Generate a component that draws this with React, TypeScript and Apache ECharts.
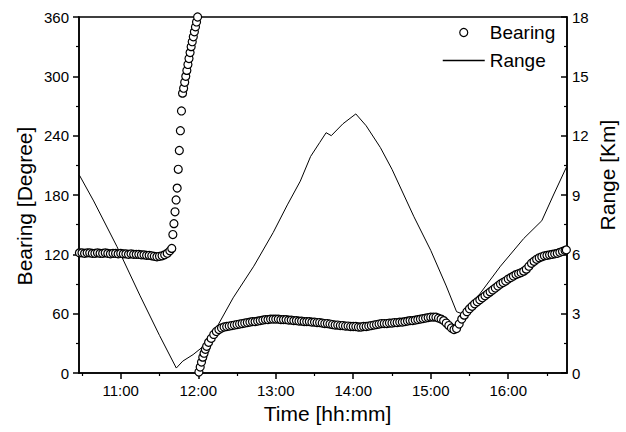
import React, { useEffect, useRef } from "react";
import * as echarts from "echarts";

// Target bearing (degrees) sampled over the track, time as hh:mm[:ss]
const bearingTime = [
  "10:28", "10:30", "10:32", "10:34", "10:36", "10:38", "10:40", "10:42", "10:44", "10:46",
  "10:48", "10:50", "10:52", "10:54", "10:56", "10:58", "11:00", "11:02", "11:04", "11:06",
  "11:08", "11:10", "11:12", "11:14", "11:16", "11:18", "11:20", "11:22", "11:24", "11:26",
  "11:28", "11:30", "11:32", "11:34", "11:36", "11:38",
  "11:39:30", "11:40:20", "11:41:10", "11:42:00", "11:42:50", "11:43:40", "11:44:30", "11:45:20",
  "11:46:10", "11:47:00", "11:47:50", "11:48:40", "11:49:30", "11:50:20", "11:51:10", "11:52:00",
  "11:52:50", "11:53:40", "11:54:30", "11:55:20", "11:56:10", "11:57:00", "11:57:50", "11:58:40",
  "11:59:30",
  "12:00:30", "12:01:30", "12:02:30", "12:03:30", "12:04:30", "12:05:30", "12:06:30",
  "12:08", "12:10", "12:12", "12:14", "12:16", "12:18", "12:20", "12:22", "12:24", "12:26",
  "12:28", "12:30", "12:32", "12:34", "12:36", "12:38", "12:40", "12:42", "12:44", "12:46",
  "12:48", "12:50", "12:52", "12:54", "12:56", "12:58", "13:00", "13:02", "13:04", "13:06",
  "13:08", "13:10", "13:12", "13:14", "13:16", "13:18", "13:20", "13:22", "13:24", "13:26",
  "13:28", "13:30", "13:32", "13:34", "13:36", "13:38", "13:40", "13:42", "13:44", "13:46",
  "13:48", "13:50", "13:52", "13:54", "13:56", "13:58", "14:00", "14:02", "14:04", "14:06",
  "14:08", "14:10", "14:12", "14:14", "14:16", "14:18", "14:20", "14:22", "14:24", "14:26",
  "14:28", "14:30", "14:32", "14:34", "14:36", "14:38", "14:40", "14:42", "14:44", "14:46",
  "14:48", "14:50", "14:52", "14:54", "14:56", "14:58", "15:00", "15:02", "15:04", "15:06",
  "15:08", "15:10", "15:12", "15:14", "15:16", "15:18", "15:20", "15:22", "15:24", "15:26",
  "15:28", "15:30", "15:32", "15:34", "15:36", "15:38", "15:40", "15:42", "15:44", "15:46",
  "15:48", "15:50", "15:52", "15:54", "15:56", "15:58", "16:00", "16:02", "16:04", "16:06",
  "16:08", "16:10", "16:12", "16:14", "16:16", "16:18", "16:20", "16:22", "16:24", "16:26",
  "16:28", "16:30", "16:32", "16:34", "16:36", "16:38", "16:40", "16:42", "16:44", "16:45",
];

const bearingDeg = [
  121.5, 121.5, 121, 121.5, 121.5, 121, 121, 121.5, 121, 121,
  121.5, 121, 120.5, 121, 121, 120.5, 121, 120.5, 120.5, 120,
  120.5, 120, 120, 120, 119.5, 119.5, 119, 119, 118.5, 118,
  117.5, 118, 118.5, 119.5, 121, 123.5,
  126, 140, 151, 163, 175, 187, 206, 225,
  245, 265, 283, 288, 294, 300, 306, 312,
  318, 324, 330, 335, 340, 345, 350, 355,
  360,
  1, 6, 11, 16, 20, 24, 27,
  31, 35, 39, 42, 44, 45.5, 46.5, 47, 47.5, 48,
  48.5, 49, 49.5, 50, 50.5, 51, 51.5, 52, 52, 52.5,
  53, 53.5, 54, 54, 54.5, 54.5, 54.5, 54.5, 54, 54,
  54, 53.5, 53.5, 53, 53, 52.5, 52.5, 52, 52, 52,
  51.5, 51.5, 51, 51, 50.5, 50, 50, 49.5, 49, 48.5,
  48.5, 48, 48, 47.5, 47.5, 47, 47, 47, 46.5, 46.5,
  47, 47, 47.5, 48, 48.5, 49, 49.5, 50, 50, 50,
  50.5, 50.5, 51, 51, 51.5, 51.5, 52, 52.5, 53, 53,
  53.5, 54, 54.5, 55, 55.5, 56, 56.5, 56.5, 56.5, 55.5,
  54.5, 53, 50.5, 48, 45.5, 44, 45, 49.5, 54.5, 58.5,
  62, 65, 67.5, 70, 72, 74, 76, 78, 80, 82,
  84, 86, 88, 90, 91.5, 93, 95, 96.5, 98, 99.5,
  100.5, 101.5, 103, 105, 108, 111, 113, 115, 116.5, 117.5,
  118.5, 119, 119.5, 120, 120.5, 121, 122, 123, 124, 124.5,
];

// Range to target (km)
const rangeTime = [
  "10:28", "10:39", "10:57", "11:15", "11:30", "11:43", "11:48", "11:56", "12:04",
  "12:09", "12:14", "12:27", "12:43", "12:58", "13:09", "13:19", "13:27", "13:34", "13:39",
  "13:43", "13:52", "14:02", "14:10", "14:21", "14:30", "14:47", "15:00", "15:12", "15:20",
  "15:24", "15:38", "15:54", "16:12", "16:26", "16:35", "16:45",
];
const rangeKm = [
  10.0, 8.7, 6.4, 3.9, 1.9, 0.25, 0.6, 0.93, 1.35,
  1.7, 2.27, 3.8, 5.4, 7.1, 8.5, 9.7, 10.95, 11.65, 12.15,
  12.0, 12.6, 13.1, 12.5, 11.4, 10.3, 7.9, 6.2, 4.4, 3.1,
  3.0, 4.0, 5.4, 6.8, 7.7, 9.0, 10.4,
];

const timeLabels = ["11:00", "12:00", "13:00", "14:00", "15:00", "16:00"];
const timeMinorTicks = ["10:30", "11:30", "12:30", "13:30", "14:30", "15:30", "16:30"];
const timeStart = "10:27:40";
const timeEnd = "16:45:30";

const toHours = (s: string): number => {
  const [h, m, sec] = s.split(":").map(Number);
  return h + m / 60 + (sec || 0) / 3600;
};

const toClock = (v: number): string => {
  const total = Math.round(v * 60);
  const h = Math.floor(total / 60);
  const m = total % 60;
  return `${h}:${String(m).padStart(2, "0")}`;
};

const FONT = "'Liberation Sans', Arial, sans-serif";

export default function App() {
  const ref = useRef<HTMLDivElement>(null);

  useEffect(() => {
    document.body.style.margin = "0";
    if (!ref.current) return;
    const chart = echarts.init(ref.current, undefined, { renderer: "svg" });

    const bearingData = bearingTime.map((t, i) => [toHours(t), bearingDeg[i]]);
    const rangeData = rangeTime.map((t, i) => [toHours(t), rangeKm[i]]);
    const xMin = toHours(timeStart);
    const xMax = toHours(timeEnd);

    const black = "#000";
    const tickLabelStyle = { color: black, fontSize: 15, fontFamily: FONT };
    const titleStyle = { color: black, fontSize: 21, fontFamily: FONT };

    chart.setOption({
      animation: false,
      backgroundColor: "#fff",
      grid: {
        left: 79,
        right: 59,
        top: 17,
        bottom: 59,
        show: true,
        borderColor: black,
        borderWidth: 1.5,
        backgroundColor: "transparent",
        containLabel: false,
        outerBoundsMode: "none",
      },
      legend: {
        orient: "vertical",
        left: 437,
        top: 18,
        padding: 5,
        itemGap: 9,
        itemWidth: 42,
        itemHeight: 8,
        textStyle: { color: black, fontSize: 19, fontFamily: FONT },
        data: [
          {
            name: "Bearing",
            icon: "circle",
            itemStyle: { color: "#fff", borderColor: black, borderWidth: 1.2, opacity: 1 },
          },
          {
            name: "Range",
            itemStyle: { opacity: 0 },
            lineStyle: { color: black, width: 1.5, opacity: 1 },
          },
        ],
      },
      xAxis: [
        {
          type: "value",
          min: xMin,
          max: xMax,
          position: "bottom",
          name: "Time [hh:mm]",
          nameLocation: "middle",
          nameGap: 30,
          nameMoveOverlap: false,
          nameTextStyle: { ...titleStyle, padding: [0, 0, 0, 9] },
          axisLine: { show: true, onZero: false, lineStyle: { color: black, width: 1.5 } },
          axisTick: {
            show: true,
            inside: false,
            length: 6,
            customValues: timeLabels.map(toHours),
            lineStyle: { color: black, width: 1.5 },
          },
          axisLabel: {
            show: true,
            margin: 10,
            customValues: timeLabels.map(toHours),
            formatter: (v: number) => toClock(v),
            ...tickLabelStyle,
          },
          splitLine: { show: false },
        },
        {
          type: "value",
          min: xMin,
          max: xMax,
          position: "bottom",
          axisLine: { show: false, onZero: false },
          axisTick: {
            show: true,
            inside: false,
            length: 3,
            customValues: timeMinorTicks.map(toHours),
            lineStyle: { color: black, width: 1.2 },
          },
          axisLabel: { show: false },
          splitLine: { show: false },
        },
      ],
      yAxis: [
        {
          type: "value",
          position: "left",
          min: 0,
          max: 360,
          interval: 60,
          name: "Bearing [Degree]",
          nameLocation: "middle",
          nameRotate: 90,
          nameGap: 44,
          nameMoveOverlap: false,
          nameTextStyle: { ...titleStyle, padding: [0, 22, 0, 0] },
          axisLine: { show: true, onZero: false, lineStyle: { color: black, width: 1.5 } },
          axisTick: { show: true, inside: false, length: 6, lineStyle: { color: black, width: 1.5 } },
          minorTick: { show: true, splitNumber: 2, length: 3, lineStyle: { color: black, width: 1.2 } },
          axisLabel: { margin: 10, ...tickLabelStyle },
          splitLine: { show: false },
        },
        {
          type: "value",
          position: "right",
          min: 0,
          max: 18,
          interval: 3,
          name: "Range [Km]",
          nameLocation: "middle",
          nameRotate: 90,
          nameGap: 30,
          nameMoveOverlap: false,
          nameTextStyle: { ...titleStyle, padding: [0, 0, 0, 40] },
          axisLine: { show: true, onZero: false, lineStyle: { color: black, width: 1.5 } },
          axisTick: { show: true, inside: true, length: 6, lineStyle: { color: black, width: 1.5 } },
          minorTick: { show: true, splitNumber: 2, length: 3, lineStyle: { color: black, width: 1.2 } },
          axisLabel: { margin: 5, ...tickLabelStyle },
          splitLine: { show: false },
        },
      ],
      series: [
        {
          name: "Range",
          type: "line",
          xAxisIndex: 0,
          yAxisIndex: 1,
          data: rangeData,
          symbol: "none",
          showSymbol: false,
          lineStyle: { color: black, width: 1 },
          itemStyle: { color: black },
          z: 2,
        },
        {
          name: "Bearing",
          type: "scatter",
          xAxisIndex: 0,
          yAxisIndex: 0,
          data: bearingData,
          symbol: "circle",
          symbolSize: 8,
          itemStyle: { color: "#fff", borderColor: black, borderWidth: 1.2, opacity: 1 },
          emphasis: { disabled: true },
          z: 3,
        },
      ],
    });

    return () => chart.dispose();
  }, []);

  return <div ref={ref} style={{ width: 626, height: 432 }} />;
}
